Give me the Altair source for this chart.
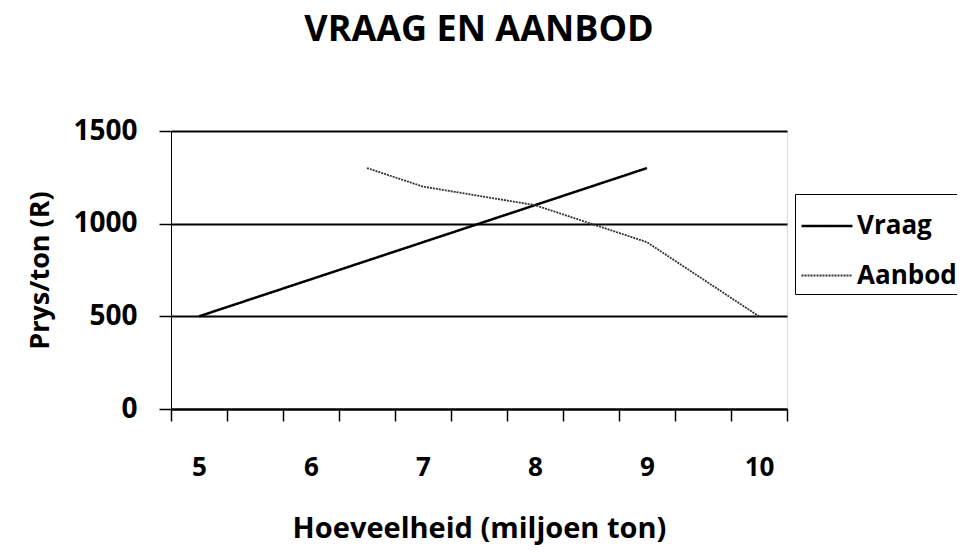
import altair as alt
import pandas as pd

categories = ["5", "5.5", "6", "6.5", "7", "7.5", "8", "8.5", "9", "9.5", "10"]
tick_labels = ["5", "6", "7", "8", "9", "10"]

vraag_x = ["5", "5.5", "6", "6.5", "7", "7.5", "8", "8.5", "9"]
vraag_y = [500, 600, 700, 800, 900, 1000, 1100, 1200, 1300]

aanbod_x = ["6.5", "7", "7.5", "8", "8.5", "9", "9.5", "10"]
aanbod_y = [1300, 1200, 1150, 1100, 1000, 900, 700, 500]

series = ["Vraag", "Aanbod"]

rows = []
for x, y in zip(vraag_x, vraag_y):
    rows.append({"x": x, "y": y, "s": "Vraag"})
for x, y in zip(aanbod_x, aanbod_y):
    rows.append({"x": x, "y": y, "s": "Aanbod"})
df = pd.DataFrame(rows)

FONT = "Open Sans"
label_expr = "indexof(" + str(tick_labels) + ", datum.label) >= 0 ? datum.label : ''"

chart = alt.Chart(df).mark_line().encode(
    x=alt.X("x:O", sort=categories,
            scale=alt.Scale(type="band", domain=categories, paddingInner=0, paddingOuter=0),
            axis=alt.Axis(title="Hoeveelheid (miljoen ton)", labelAngle=0,
                          labelExpr=label_expr, tickBand="extent",
                          domainColor="black", domainWidth=2,
                          tickColor="black", tickWidth=1.5, tickSize=12,
                          labelFont=FONT, labelFontSize=26, labelFontWeight="bold",
                          labelColor="black", labelPadding=33,
                          titleFont=FONT, titleFontSize=29, titleFontWeight="bold",
                          titleColor="black", titlePadding=34, grid=False)),
    y=alt.Y("y:Q", scale=alt.Scale(domain=[0, 1500], nice=False),
            axis=alt.Axis(title="Prys/ton (R)", values=[0, 500, 1000, 1500], format="d",
                          domainColor="black", domainWidth=1,
                          tickColor="black", tickWidth=1.5, tickSize=12,
                          labelFont=FONT, labelFontSize=28, labelFontWeight="bold",
                          labelColor="black", labelPadding=22,
                          titleFont=FONT, titleFontSize=27, titleFontWeight="bold",
                          titleColor="black", titlePadding=18,
                          grid=True, gridColor="black", gridWidth=2)),
    color=alt.Color("s:N", scale=alt.Scale(domain=series, range=["black", "#333333"]),
                    legend=alt.Legend(title=None, orient="none", legendX=624, legendY=63,
                                      symbolType="stroke", symbolSize=2600,
                                      symbolStrokeWidth=2,
                                      labelFont=FONT, labelFontSize=26, labelFontWeight="bold",
                                      labelColor="black", rowPadding=10, padding=5,
                                      strokeColor="black", labelOffset=3)),
    strokeDash=alt.StrokeDash("s:N", scale=alt.Scale(domain=series, range=[[1, 0], [2, 1]]),
                              legend=None),
    strokeWidth=alt.StrokeWidth("s:N", scale=alt.Scale(domain=series, range=[2.5, 1.8]),
                                legend=None),
).properties(
    width=616, height=278,
    title=alt.TitleParams("VRAAG EN AANBOD", font=FONT, fontSize=36, fontWeight="bold",
                          color="black", anchor="middle", offset=68),
    autosize=alt.AutoSizeParams(type="none"),
    padding={"left": 163, "top": 123, "right": 170, "bottom": 143},
).configure_view(stroke=None).configure(background="white")

chart.save("out.html", embed_options={"renderer": "svg", "actions": False})
